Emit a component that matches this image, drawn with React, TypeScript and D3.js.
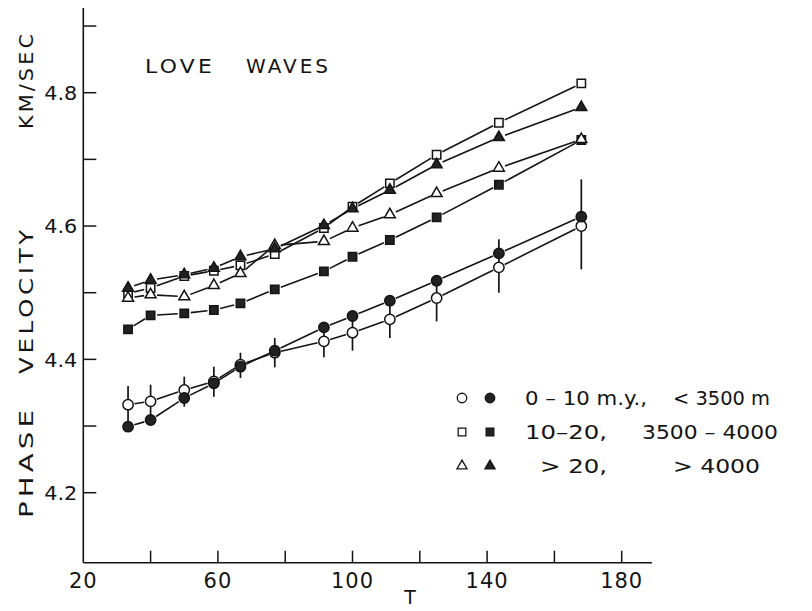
import React from 'react';
import * as d3 from 'd3';

// ---- data ----
const periods = [33.3, 40, 50, 58.8, 66.7, 76.9, 91.5, 100, 111.1, 125, 143.5, 168];

// open circles: 0-10 m.y.
const age0to10 = [4.332, 4.337, 4.354, 4.367, 4.392, 4.410, 4.427, 4.440, 4.460, 4.492, 4.538, 4.600];
const age0to10Lo = [4.305, 4.310, 4.329, 4.344, 4.372, 4.388, 4.403, 4.413, 4.432, 4.457, 4.500, 4.535];
const age0to10Hi = [4.360, 4.362, 4.374, 4.389, 4.410, 4.432, 4.452, 4.468, 4.490, 4.522, 4.580, 4.670];
// filled circles: < 3500 m
const depthLt3500 = [4.299, 4.309, 4.342, 4.364, 4.389, 4.413, 4.448, 4.465, 4.488, 4.518, 4.559, 4.614];
// open squares: 10-20 m.y.
const age10to20 = [4.499, 4.507, 4.525, 4.533, 4.541, 4.558, 4.597, 4.629, 4.664, 4.707, 4.755, 4.814];
// filled squares: 3500-4000 m
const depth3500to4000 = [4.445, 4.466, 4.469, 4.474, 4.484, 4.505, 4.532, 4.554, 4.579, 4.613, 4.662, 4.729];
// open triangles: > 20 m.y.
const ageGt20 = [4.492, 4.497, 4.494, 4.511, 4.529, 4.571, 4.577, 4.597, 4.617, 4.649, 4.687, 4.730];
// filled triangles: > 4000 m
const depthGt4000 = [4.507, 4.519, 4.527, 4.537, 4.554, 4.566, 4.601, 4.626, 4.654, 4.692, 4.733, 4.778];

const xTicks = [40, 60, 80, 100, 120, 140, 160, 180];
const xTickLabels = [20, 60, 100, 140, 180];
const yTicks = [4.3, 4.4, 4.5, 4.6, 4.7, 4.8, 4.9, 4.2];
const yTickLabels = [4.2, 4.4, 4.6, 4.8];

const legendAge = ['0 \u2013 10 m.y.,', '10\u201320,', '> 20,'];
const legendDepth = ['< 3500 m', '3500 \u2013 4000', '> 4000'];

const titleWords = ['LOVE', 'WAVES'];
const xTitle = 'T';
const yTitleParts = ['PHASE', 'VELOCITY', 'KM/SEC'];

const INK = '#141414';
const FONT = '"DejaVu Sans", "Liberation Sans", sans-serif';

type Shape = 'circle' | 'square' | 'triangle';

const symbolPath = (shape: Shape, scale = 1) => {
  const type = shape === 'circle' ? d3.symbolCircle : shape === 'square' ? d3.symbolSquare : d3.symbolTriangle;
  const size = shape === 'circle' ? 84 : shape === 'square' ? 70 : 52;
  return d3.symbol().type(type).size(size * scale)() as string;
};

export default function App() {
  const W = 812, H = 611;
  const x = d3.scaleLinear().domain([20, 180]).range([83.3, 621.7]);
  const y = d3.scaleLinear().domain([4.2, 4.8]).range([492.7, 92.7]);
  const xEnd = x(189);
  const yTop = y(4.927);
  const yBot = y(4.095);

  const series: { vals: number[]; shape: Shape; filled: boolean }[] = [
    { vals: age0to10, shape: 'circle', filled: false },
    { vals: depthLt3500, shape: 'circle', filled: true },
    { vals: age10to20, shape: 'square', filled: false },
    { vals: depth3500to4000, shape: 'square', filled: true },
    { vals: ageGt20, shape: 'triangle', filled: false },
    { vals: depthGt4000, shape: 'triangle', filled: true },
  ];

  const gap = 6.5;
  const segments = (vals: number[]) => {
    const out: { x1: number; y1: number; x2: number; y2: number }[] = [];
    for (let i = 0; i < vals.length - 1; i++) {
      const ax = x(periods[i]), ay = y(vals[i]);
      const bx = x(periods[i + 1]), by = y(vals[i + 1]);
      const dx = bx - ax, dy = by - ay;
      const len = Math.hypot(dx, dy);
      if (len <= gap * 2 + 1) continue;
      const ux = dx / len, uy = dy / len;
      out.push({ x1: ax + ux * gap, y1: ay + uy * gap, x2: bx - ux * gap, y2: by - uy * gap });
    }
    return out;
  };

  const legendRowsY = [398, 432, 466];
  const legendAgeX = [525, 525, 540];
  const legendAgeLen = [122, 82, 67];
  const legendDepthX = [673, 642, 673];
  const legendDepthLen = [97, 136, 87];

  const yTitleCenter = [462, 300, 80];
  const yTitleLen = [112, 148, 98];

  return (
    <svg width={W} height={H} style={{ position: 'absolute', left: 0, top: 0, background: '#fff' }}
      fontFamily={FONT}>
      <rect width={W} height={H} fill="#fff" />
      {/* axes */}
      <line x1={x(20)} x2={x(20)} y1={yTop} y2={yBot} stroke={INK} strokeWidth={1.6} />
      <line x1={x(20)} x2={xEnd} y1={yBot} y2={yBot} stroke={INK} strokeWidth={1.6} />
      {yTicks.map((t) => (
        <line key={'yt' + t} x1={x(20)} x2={x(20) + 13} y1={y(t)} y2={y(t)} stroke={INK} strokeWidth={1.5} />
      ))}
      {yTickLabels.map((t) => (
        <text key={'yl' + t} x={x(20) - 6} y={y(t)} dy="0.36em" textAnchor="end" fontSize={20} fill={INK}
          textLength={33} lengthAdjust="spacingAndGlyphs">
          {t.toFixed(1)}
        </text>
      ))}
      {xTicks.map((t) => (
        <line key={'xt' + t} x1={x(t)} x2={x(t)} y1={yBot} y2={yBot - 12} stroke={INK} strokeWidth={1.5} />
      ))}
      {xTickLabels.map((t) => (
        <text key={'xl' + t} x={x(t)} y={588} textAnchor="middle" fontSize={21} fill={INK} letterSpacing={1}>
          {t}
        </text>
      ))}
      <text x={410} y={604} textAnchor="middle" fontSize={19} fill={INK}>{xTitle}</text>

      {/* y title */}
      {yTitleParts.map((p, i) => (
        <text key={p} transform={`translate(33,${yTitleCenter[i]}) rotate(-90)`} x={-yTitleLen[i] / 2}
          fontSize={20} letterSpacing={3} fill={INK} textLength={yTitleLen[i]} lengthAdjust="spacingAndGlyphs">
          {p}
        </text>
      ))}

      {/* title */}
      <text x={145} y={73} fontSize={20} letterSpacing={3} fill={INK} textLength={70}
        lengthAdjust="spacingAndGlyphs">{titleWords[0]}</text>
      <text x={246} y={73} fontSize={20} letterSpacing={3} fill={INK} textLength={85}
        lengthAdjust="spacingAndGlyphs">{titleWords[1]}</text>

      {/* connecting lines */}
      {series.map((s, si) => (
        <g key={'ln' + si}>
          {segments(s.vals).map((sg, i) => (
            <line key={i} {...sg} stroke={INK} strokeWidth={1.6} />
          ))}
        </g>
      ))}

      {/* error bars on open circles */}
      {periods.map((p, i) => (
        <line key={'eb' + i} x1={x(p)} x2={x(p)} y1={y(age0to10Lo[i])} y2={y(age0to10Hi[i])} stroke={INK}
          strokeWidth={1.7} />
      ))}

      {/* markers */}
      {series.map((s, si) => (
        <g key={'mk' + si}>
          {s.vals.map((v, i) => (
            <path key={i} d={symbolPath(s.shape)} transform={`translate(${x(periods[i])},${y(v)})`}
              fill={s.filled ? '#222' : '#fff'} stroke={INK} strokeWidth={1.5} />
          ))}
        </g>
      ))}

      {/* legend */}
      {legendRowsY.map((ly, i) => {
        const shape: Shape = (['circle', 'square', 'triangle'] as Shape[])[i];
        return (
          <g key={'lg' + i}>
            <path d={symbolPath(shape, 0.85)} transform={`translate(462,${ly})`} fill="#fff" stroke={INK} strokeWidth={1.3} />
            <path d={symbolPath(shape, 0.85)} transform={`translate(490,${ly})`} fill="#222" stroke={INK} strokeWidth={1.3} />
            <text x={legendAgeX[i]} y={ly} dy="0.36em" fontSize={20} fill={INK}
              textLength={legendAgeLen[i]} lengthAdjust="spacingAndGlyphs">{legendAge[i]}</text>
            <text x={legendDepthX[i]} y={ly} dy="0.36em" fontSize={20} fill={INK}
              textLength={legendDepthLen[i]} lengthAdjust="spacingAndGlyphs">{legendDepth[i]}</text>
          </g>
        );
      })}
    </svg>
  );
}
